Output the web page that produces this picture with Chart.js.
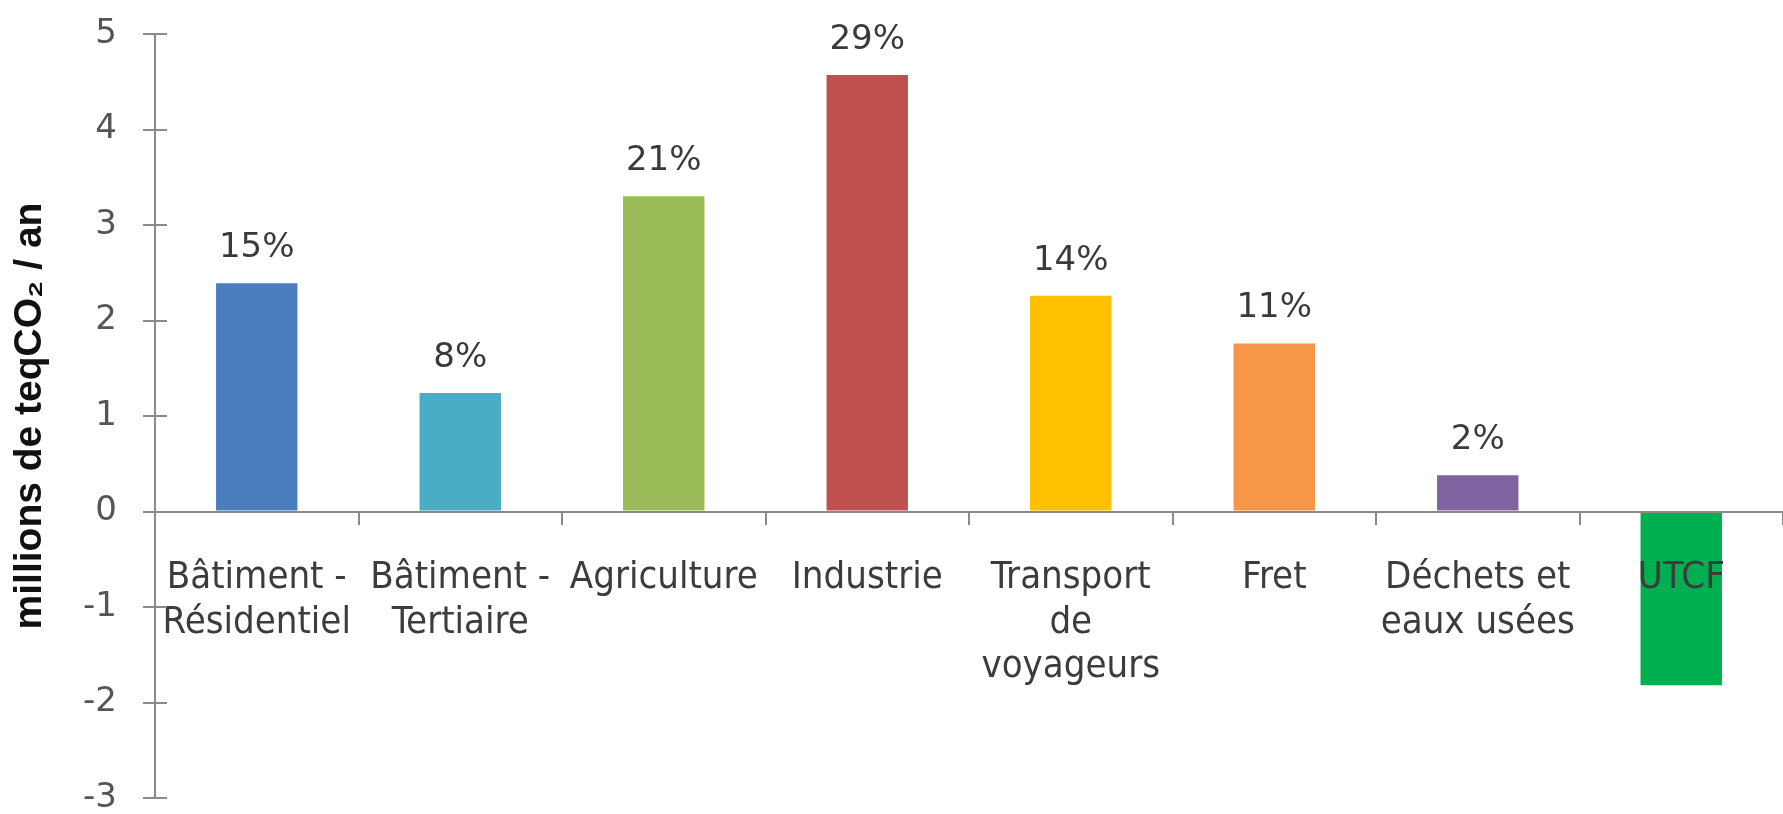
<!DOCTYPE html>
<html>
<head>
<meta charset="utf-8">
<script src="https://cdn.jsdelivr.net/npm/chart.js@4.4.1/dist/chart.umd.min.js"></script>
<style>
  html, body { margin: 0; padding: 0; background: #fff; }
  #wrap { width: 1783px; height: 814px; }
</style>
</head>
<body>
<div id="wrap"><canvas id="c" width="1783" height="814"></canvas></div>
<script>
var categories = [
    ["Bâtiment -", "Résidentiel"],
    ["Bâtiment -", "Tertiaire"],
    "Agriculture",
    "Industrie",
    ["Transport", "de", "voyageurs"],
    "Fret",
    ["Déchets et", "eaux usées"],
    "UTCF"
];
var emissions = [2.39, 1.24, 3.30, 4.57, 2.26, 1.76, 0.38, -1.82];
var shares = ["15%", "8%", "21%", "29%", "14%", "11%", "2%", ""];
var barColors = ["#4a7ebf", "#4bacc6", "#9bbb59", "#c0504d", "#ffc000", "#f79646", "#8064a2", "#00b050"];
var yTicks = { min: -3, max: 5, step: 1 };

// pourcentages au-dessus des barres + petits traits intérieurs de l'axe Y
var shareLabels = {
    id: "shareLabels",
    afterDatasetsDraw: function (chart) {
        var ctx = chart.ctx;
        var meta = chart.getDatasetMeta(0);
        ctx.save();
        ctx.font = "34px 'DejaVu Sans'";
        ctx.fillStyle = "#3a3a3a";
        ctx.textAlign = "center";
        ctx.textBaseline = "alphabetic";
        meta.data.forEach(function (bar, i) {
            if (!shares[i]) return;
            ctx.fillText(shares[i], bar.x, bar.y - 26);
        });
        ctx.restore();
    },
    afterDraw: function (chart) {
        var ctx = chart.ctx;
        var y = chart.scales.y;
        ctx.save();
        ctx.strokeStyle = "#8a8a8a";
        ctx.lineWidth = 2;
        y.ticks.forEach(function (t, i) {
            var py = Math.round(y.getPixelForTick(i));
            ctx.beginPath();
            ctx.moveTo(y.right, py);
            ctx.lineTo(y.right + 12, py);
            ctx.stroke();
        });
        ctx.restore();
    }
};

new Chart(document.getElementById("c"), {
    type: "bar",
    data: {
        labels: categories,
        datasets: [{
            data: emissions,
            backgroundColor: barColors,
            borderWidth: 0,
            barPercentage: 0.4,
            categoryPercentage: 1.0
        }]
    },
    options: {
        responsive: false,
        animation: false,
        layout: { padding: { top: 34, bottom: 16, left: 0, right: 0 } },
        plugins: { legend: { display: false }, tooltip: { enabled: false } },
        scales: {
            x: {
                position: { y: 0 },
                offset: true,
                border: { color: "#8a8a8a", width: 2, z: 1 },
                grid: { drawOnChartArea: false, offset: true, tickLength: 12, color: "#8a8a8a", lineWidth: 2 },
                ticks: {
                    z: 1,
                    color: "#3c3c3c",
                    padding: 32,
                    maxRotation: 0,
                    autoSkip: false,
                    font: { family: "'DejaVu Sans Condensed', 'DejaVu Sans'", size: 38, lineHeight: 1.18 }
                },
                afterFit: function (s) { s.paddingLeft = 0; s.paddingRight = 0; }
            },
            y: {
                min: yTicks.min,
                max: yTicks.max,
                border: { color: "#8a8a8a", width: 2 },
                grid: { drawOnChartArea: false, tickLength: 12, color: "#8a8a8a", lineWidth: 2 },
                ticks: {
                    stepSize: yTicks.step,
                    color: "#555555",
                    padding: 26,
                    font: { family: "'DejaVu Sans'", size: 34 }
                },
                title: {
                    display: true,
                    text: "millions de teqCO₂ / an",
                    color: "#111111",
                    padding: { top: 7, bottom: 0 },
                    font: { family: "'Liberation Sans'", size: 39, weight: "bold", lineHeight: 1.2 }
                },
                afterFit: function (s) { s.width = 155; s.paddingTop = 0; s.paddingBottom = 0; }
            }
        }
    },
    plugins: [shareLabels]
});
</script>
</body>
</html>
